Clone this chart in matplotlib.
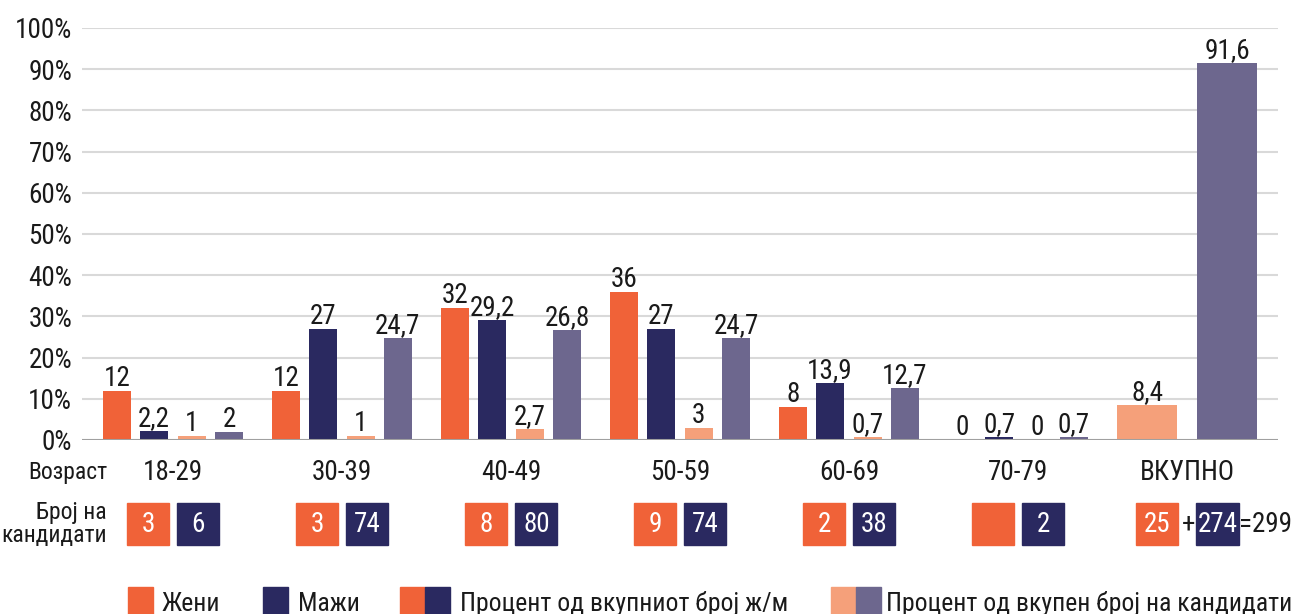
import matplotlib
matplotlib.use("Agg")
import matplotlib.pyplot as plt
from matplotlib import font_manager
from matplotlib.patches import Rectangle
from matplotlib.transforms import blended_transform_factory

# pick a narrow sans if there is one
names = {f.name for f in font_manager.fontManager.ttflist}
fam = "Noto Sans"
for cand in ["Liberation Sans Narrow", "Roboto Condensed", "Open Sans Condensed", "Noto Sans Condensed"]:
    if cand in names:
        fam = cand
        break
plt.rcParams['font.family'] = [fam, 'DejaVu Sans']
plt.rcParams['font.stretch'] = 'condensed'

# data
groups = ["18-29", "30-39", "40-49", "50-59", "60-69", "70-79"]
total_label = "ВКУПНО"
women = [12, 12, 32, 36, 8, 0]
men = [2.2, 27, 29.2, 27, 13.9, 0.7]
women_share = [1, 1, 2.7, 3, 0.7, 0]
men_share = [2, 24.7, 26.8, 24.7, 12.7, 0.7]
total_women_share = 8.4
total_men_share = 91.6
women_counts = [3, 3, 8, 9, 2, None]
men_counts = [6, 74, 80, 74, 38, 2]
total_women = 25
total_men = 274
total_all = 299
yticks = list(range(0, 101, 10))

legend_labels = ["Жени", "Мажи", "Процент од вкупниот број ж/м",
                 "Процент од вкупен број на кандидати"]

c_w = '#F06238'
c_m = '#2A2960'
c_ws = '#F5A07A'
c_ms = '#6D678E'
txt = '#1a1a1a'

W, H = 1306, 614
fig = plt.figure(figsize=(W / 100, H / 100), dpi=100)
ax = fig.add_axes([82 / W, 1 - 440 / H, (1278 - 82) / W, (440 - 28) / H])

def fy(py):
    return 1 - py / H

def fx(px):
    return px / W

def fmt(v):
    return f"{v:g}".replace('.', ',')

fs = 19.5      # numbers
fs_t = 17      # side labels
fs_l = 18.5    # legend
bw = 0.166
offs = [-0.331, -0.112, 0.112, 0.331]
series = [(women, c_w), (men, c_m), (women_share, c_ws), (men_share, c_ms)]
for (vals, col), off in zip(series, offs):
    xs = [i + off for i in range(len(groups))]
    ax.bar(xs, vals, width=bw, color=col, zorder=3)
    for x, v in zip(xs, vals):
        ax.annotate(fmt(v), (x, v), xytext=(0, 5), textcoords='offset pixels',
                    ha='center', va='baseline', fontsize=fs, color=txt)

n = len(groups)
tw = 0.355
for v, off, col in [(total_women_share, -0.237, c_ws), (total_men_share, 0.237, c_ms)]:
    ax.bar(n + off, v, width=tw, color=col, zorder=3)
    ax.annotate(fmt(v), (n + off, v), xytext=(0, 5), textcoords='offset pixels',
                ha='center', va='baseline', fontsize=fs, color=txt)

ax.set_xlim(-0.538, 6.538)
ax.set_ylim(0, 100)
ax.set_yticks(yticks)
ax.set_yticklabels([f"{t}%" for t in yticks], fontsize=fs, color=txt)
ax.set_xticks([])
ax.tick_params(axis='y', length=0, pad=7)
for s in ax.spines.values():
    s.set_visible(False)
ax.grid(axis='y', color='#d9d9d9', linewidth=1.5, zorder=0)
ax.axhline(0, color='#a0a0a0', linewidth=2.2, zorder=4)

tr = blended_transform_factory(ax.transData, fig.transFigure)

# category row
for i, g in enumerate(groups + [total_label]):
    ax.text(i, fy(472), g, transform=tr, ha='center', va='center', fontsize=fs, color=txt)
fig.text(fx(107), fy(472), "Возраст", ha='right', va='center', fontsize=fs_t, color=txt)
fig.text(fx(107), fy(513), "Број на", ha='right', va='center', fontsize=fs_t, color=txt)
fig.text(fx(107), fy(535), "кандидати", ha='right', va='center', fontsize=fs_t, color=txt)

# count boxes
bwid = 0.249
btop, bbot = fy(503), fy(545)
bmid = (btop + bbot) / 2

def box(xc, label, col):
    ax.add_patch(Rectangle((xc - bwid / 2, bbot), bwid, btop - bbot, transform=tr,
                           color=col, clip_on=False))
    if label is not None:
        ax.text(xc, bmid, str(label), transform=tr, ha='center', va='center',
                fontsize=fs, color='white')

for i in range(n):
    box(i - 0.146, women_counts[i], c_w)
    box(i + 0.15, men_counts[i], c_m)

box(n - 0.18, total_women, c_w)
ax.text(n + 0.006, bmid, "+", transform=tr, ha='center', va='center', fontsize=fs, color=txt)
box(n + 0.18, total_men, c_m)
ax.text(n + 0.31, bmid, f"={total_all}", transform=tr, ha='left', va='center',
        fontsize=fs, color=txt)

# legend
def sq(px, col):
    fig.patches.append(Rectangle((fx(px), fy(616)), 25 / W, 29 / H,
                                 transform=fig.transFigure, color=col))

sq(128, c_w)
fig.text(fx(162), fy(611), legend_labels[0], ha='left', va='baseline', fontsize=fs_l, color=txt)
sq(263, c_m)
fig.text(fx(298), fy(611), legend_labels[1], ha='left', va='baseline', fontsize=fs_l, color=txt)
sq(400, c_w)
sq(425, c_m)
fig.text(fx(460), fy(611), legend_labels[2], ha='left', va='baseline', fontsize=fs_l, color=txt)
sq(831, c_ws)
sq(856, c_ms)
fig.text(fx(886), fy(611), legend_labels[3], ha='left', va='baseline', fontsize=fs_l, color=txt)

fig.savefig("out.png", dpi=100)
